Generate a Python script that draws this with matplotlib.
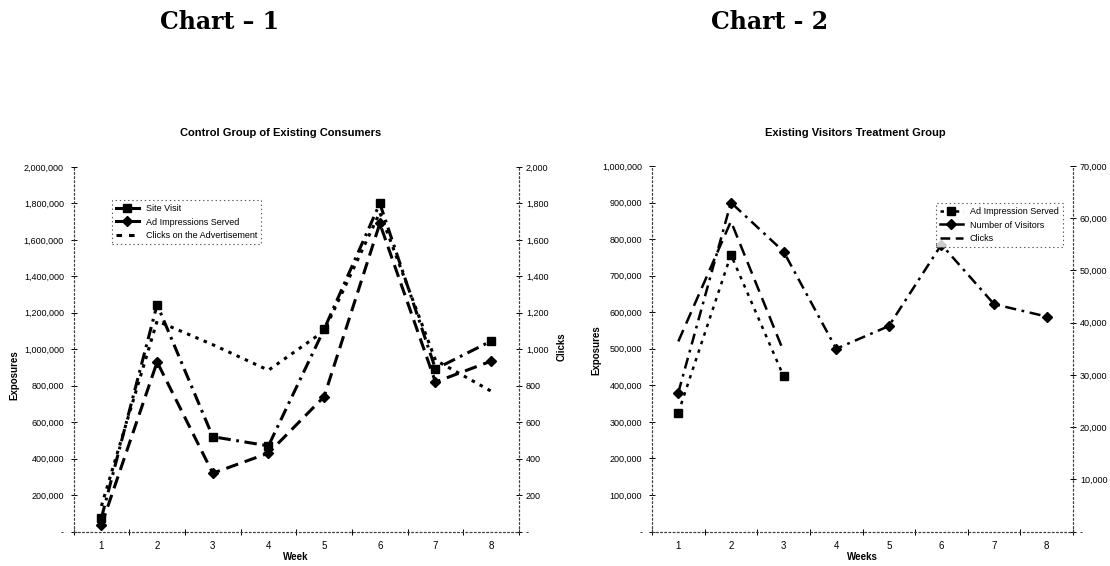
import numpy as np
import matplotlib
matplotlib.use('Agg')
import matplotlib.pyplot as plt
from matplotlib.ticker import FuncFormatter, MultipleLocator
from matplotlib.lines import Line2D

plt.rcParams['font.family'] = ['Liberation Sans Narrow', 'Liberation Sans', 'DejaVu Sans']
plt.rcParams['lines.scale_dashes'] = False

# chart 1 data
weeks = [1, 2, 3, 4, 5, 6, 7, 8]
site_visit = [75000, 1245000, 520000, 470000, 1110000, 1800000, 892000, 1045000]
ad_impressions = [35000, 930000, 320000, 430000, 740000, 1690000, 820000, 935000]
clicks_ad = [140, 1155, 1025, 885, 1100, 1750, 940, 770]

# chart 2 data
weeks2 = [1, 2, 3, 4, 5, 6, 7, 8]
ad_served2 = [325000, 757000, 425000]
visitors2 = [380000, 900000, 766000, 500000, 562000, 785000, 622000, 588000]
clicks2 = [36400, 59400, 34500]

W, H = 1110, 566
fig = plt.figure(figsize=(W / 100, H / 100), dpi=100)


def fmt(v, p):
    if abs(v) < 1e-9:
        return '-'
    return '{:,.0f}'.format(v)


def style_axes(ax, ax2):
    for a in (ax, ax2):
        for s in a.spines.values():
            s.set_linestyle((0, (1, 2)))
            s.set_linewidth(0.8)
            s.set_color('0.25')
        a.spines['top'].set_visible(False)
        a.yaxis.set_major_formatter(FuncFormatter(fmt))
    ax.tick_params(axis='y', labelsize=6.5, direction='inout', length=4, width=0.7, pad=5)
    ax2.tick_params(axis='y', labelsize=6.5, direction='inout', length=4, width=0.7, pad=3)
    ax.set_xlim(0.5, 8.5)
    ax.set_xticks(weeks)
    ax.set_xticks(np.arange(0.5, 9, 1), minor=True)
    ax.tick_params(axis='x', which='major', length=0, labelsize=7, pad=7)
    ax.tick_params(axis='x', which='minor', direction='inout', length=4, width=0.7)


# ---------- Chart 1 ----------
l1, r1, b, t1 = 73.6, 519, 531.5, 167
ax = fig.add_axes([l1 / W, 1 - b / H, (r1 - l1) / W, (b - t1) / H])
ax2 = ax.twinx()
ax.plot(weeks, site_visit, color='black', lw=2.2, marker='s', ms=6,
        linestyle=(0, (9, 4, 2, 4)))
ax.plot(weeks, ad_impressions, color='black', lw=2.2, marker='D', ms=5,
        linestyle=(0, (9, 5)))
ax2.plot(weeks, clicks_ad, color='black', lw=2.2, linestyle=(0, (2.5, 4)))
ax.set_ylim(0, 2000000)
ax.yaxis.set_major_locator(MultipleLocator(200000))
ax2.set_ylim(0, 2000)
ax2.yaxis.set_major_locator(MultipleLocator(200))
style_axes(ax, ax2)

h1 = [Line2D([], [], color='black', lw=2.2, marker='s', ms=6),
      Line2D([], [], color='black', lw=2.2, marker='D', ms=5),
      Line2D([], [], color='black', lw=2.2, linestyle=(0, (4, 5)))]
leg = ax.legend(h1, ['Site Visit', 'Ad Impressions Served', 'Clicks on the Advertisement'],
                loc='upper left', bbox_to_anchor=((112 - l1) / (r1 - l1), (b - 200) / (b - t1)),
                borderaxespad=0, fontsize=6.5, frameon=True, fancybox=False,
                handlelength=2.5, labelspacing=0.5, borderpad=0.45)
leg.get_frame().set_edgecolor('0.2')
leg.get_frame().set_linestyle((0, (1, 2)))
leg.get_frame().set_linewidth(0.8)

fig.text(14 / W, 1 - 375 / H, 'Exposures', rotation=90, ha='center', va='center',
         fontsize=7, fontweight='bold')
fig.text(562 / W, 1 - 347 / H, 'Clicks', rotation=90, ha='center', va='center',
         fontsize=7, fontweight='bold')
fig.text(296 / W, 1 - 557 / H, 'Week', ha='center', va='center', fontsize=7, fontweight='bold')
fig.text(281 / W, 1 - 133 / H, 'Control Group of Existing Consumers', ha='center', va='center',
         fontsize=8, fontweight='bold')

# ---------- Chart 2 ----------
l2, r2, t2 = 652, 1073, 166
bx = fig.add_axes([l2 / W, 1 - b / H, (r2 - l2) / W, (b - t2) / H])
bx2 = bx.twinx()
bx.plot(weeks2[:3], ad_served2, color='black', lw=1.8, marker='s', ms=6,
        linestyle=(0, (2.5, 4)))
bx.plot(weeks2, visitors2, color='black', lw=1.8, marker='D', ms=5,
        linestyle=(0, (8, 4, 2, 4)))
bx2.plot(weeks2[:3], clicks2, color='black', lw=1.8, linestyle=(0, (9, 5)))
bx.set_ylim(0, 1000000)
bx.yaxis.set_major_locator(MultipleLocator(100000))
bx2.set_ylim(0, 70000)
bx2.yaxis.set_major_locator(MultipleLocator(10000))
style_axes(bx, bx2)

h2 = [Line2D([], [], color='black', lw=1.8, marker='s', ms=6, linestyle=(0, (2.5, 3))),
      Line2D([], [], color='black', lw=1.8, marker='D', ms=5),
      Line2D([], [], color='black', lw=1.8, linestyle=(0, (7, 4)))]
leg2 = bx.legend(h2, ['Ad Impression Served', 'Number of Visitors', 'Clicks'],
                 loc='upper left', bbox_to_anchor=((936 - l2) / (r2 - l2), (b - 203) / (b - t2)),
                 borderaxespad=0, fontsize=6.5, frameon=True, fancybox=False,
                 handlelength=2.5, labelspacing=0.5, borderpad=0.45)
leg2.get_frame().set_edgecolor('0.2')
leg2.get_frame().set_linestyle((0, (1, 2)))
leg2.get_frame().set_linewidth(0.8)

fig.text(596 / W, 1 - 350 / H, 'Exposures', rotation=90, ha='center', va='center',
         fontsize=7, fontweight='bold')
fig.text(862 / W, 1 - 557 / H, 'Weeks', ha='center', va='center', fontsize=7, fontweight='bold')
fig.text(855 / W, 1 - 133 / H, 'Existing Visitors Treatment Group', ha='center', va='center',
         fontsize=8, fontweight='bold')

# headers
fig.text(220 / W, 1 - 22 / H, 'Chart \u2013 1', ha='center', va='center', fontsize=17,
         fontweight='bold', family=['DejaVu Serif'])
fig.text(770 / W, 1 - 22 / H, 'Chart - 2', ha='center', va='center', fontsize=17,
         fontweight='bold', family=['DejaVu Serif'])

fig.savefig('out.png', dpi=100)
